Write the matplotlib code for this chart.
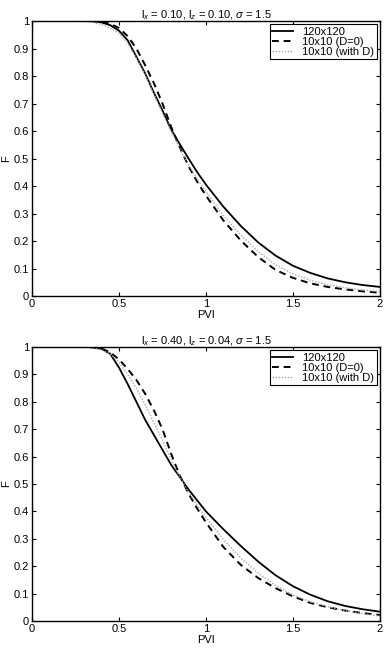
import numpy as np
import matplotlib
matplotlib.use("Agg")
import matplotlib.pyplot as plt

plt.rcParams['font.family'] = ['Liberation Sans', 'DejaVu Sans']
plt.rcParams['mathtext.fontset'] = 'custom'
plt.rcParams['mathtext.rm'] = 'Liberation Sans'
plt.rcParams['mathtext.it'] = 'Liberation Sans:italic'

# PVI grid
pvi = [0, 0.3, 0.35, 0.4, 0.45, 0.5, 0.55, 0.6, 0.65, 0.7, 0.75, 0.8, 0.85, 0.9,
       0.95, 1.0, 1.1, 1.2, 1.3, 1.4, 1.5, 1.6, 1.7, 1.8, 1.9, 2.0]

# top panel: lx = 0.10, lz = 0.10
top_fine = [1, 1, 0.999, 0.995, 0.985, 0.965, 0.93, 0.87, 0.81, 0.74, 0.675, 0.605, 0.552, 0.5,
            0.45, 0.405, 0.325, 0.255, 0.195, 0.147, 0.11, 0.084, 0.064, 0.05, 0.04, 0.033]
top_d0 = [1, 1, 1, 0.998, 0.99, 0.975, 0.945, 0.9, 0.84, 0.775, 0.7, 0.615, 0.54, 0.472,
          0.415, 0.365, 0.275, 0.202, 0.142, 0.095, 0.066, 0.046, 0.033, 0.024, 0.017, 0.012]
top_withd = [1, 0.999, 0.995, 0.988, 0.975, 0.955, 0.92, 0.865, 0.805, 0.735, 0.665, 0.6, 0.535, 0.477,
             0.425, 0.38, 0.292, 0.222, 0.162, 0.113, 0.081, 0.057, 0.041, 0.03, 0.022, 0.016]

# bottom panel: lx = 0.40, lz = 0.04
bot_fine = [1, 1, 0.999, 0.993, 0.975, 0.925, 0.865, 0.8, 0.735, 0.68, 0.625, 0.57, 0.525, 0.48,
            0.44, 0.4, 0.335, 0.274, 0.217, 0.167, 0.127, 0.096, 0.072, 0.055, 0.043, 0.034]
bot_d0 = [1, 1, 0.999, 0.995, 0.98, 0.955, 0.92, 0.88, 0.83, 0.77, 0.7, 0.61, 0.53, 0.465,
          0.41, 0.36, 0.27, 0.205, 0.157, 0.12, 0.09, 0.066, 0.05, 0.038, 0.029, 0.022]
bot_withd = [1, 0.999, 0.997, 0.99, 0.975, 0.945, 0.9, 0.85, 0.79, 0.725, 0.66, 0.59, 0.525, 0.47,
             0.423, 0.378, 0.298, 0.23, 0.175, 0.13, 0.095, 0.07, 0.052, 0.038, 0.027, 0.018]

titles = [r'l$_x$ = 0.10, l$_z$ = 0.10, $\sigma$ = 1.5',
          r'l$_x$ = 0.40, l$_z$ = 0.04, $\sigma$ = 1.5']
labels = ['120x120', '10x10 (D=0)', '10x10 (with D)']

xticks = [0, 0.5, 1, 1.5, 2]
xticklabels = ['0', '0.5', '1', '1.5', '2']
yticks = [0, 0.1, 0.2, 0.3, 0.4, 0.5, 0.6, 0.7, 0.8, 0.9, 1]
yticklabels = ['0', '0.1', '0.2', '0.3', '0.4', '0.5', '0.6', '0.7', '0.8', '0.9', '1']

FS = 8


def panel(ax, fine, d0, withd, title):
    ax.plot(pvi, fine, color='black', lw=1.3, ls='-', label=labels[0])
    ax.plot(pvi, d0, color='black', lw=1.4, ls=(0, (3.5, 2.5)), label=labels[1])
    ax.plot(pvi, withd, color='#a8a8a8', lw=1.0, ls=(0, (1, 1.2)), label=labels[2])
    ax.set_xlim(0, 2)
    ax.set_ylim(0, 1)
    ax.set_xticks(xticks)
    ax.set_xticklabels(xticklabels)
    ax.set_yticks(yticks)
    ax.set_yticklabels(yticklabels)
    ax.tick_params(direction='in', top=True, right=True, labelsize=FS,
                   length=3, width=0.8, pad=2)
    for s in ax.spines.values():
        s.set_linewidth(1.0)
    ax.set_xlabel('PVI', fontsize=FS, labelpad=1)
    ax.set_ylabel('F', fontsize=FS, labelpad=2)
    ax.set_title(title, fontsize=FS, pad=2)
    leg = ax.legend(loc='upper right', fontsize=FS, handlelength=1.9,
                    fancybox=False, framealpha=1, edgecolor='black',
                    borderpad=0.2, labelspacing=0.0, handletextpad=0.8,
                    borderaxespad=0.3)
    leg.get_frame().set_linewidth(0.8)


fig = plt.figure(figsize=(3.87, 6.5), dpi=100)
ax1 = fig.add_axes([0.0827, 0.5446, 0.899, 0.423])
ax2 = fig.add_axes([0.0827, 0.0446, 0.899, 0.4215])
panel(ax1, top_fine, top_d0, top_withd, titles[0])
panel(ax2, bot_fine, bot_d0, bot_withd, titles[1])

fig.savefig('out.png', dpi=100)
